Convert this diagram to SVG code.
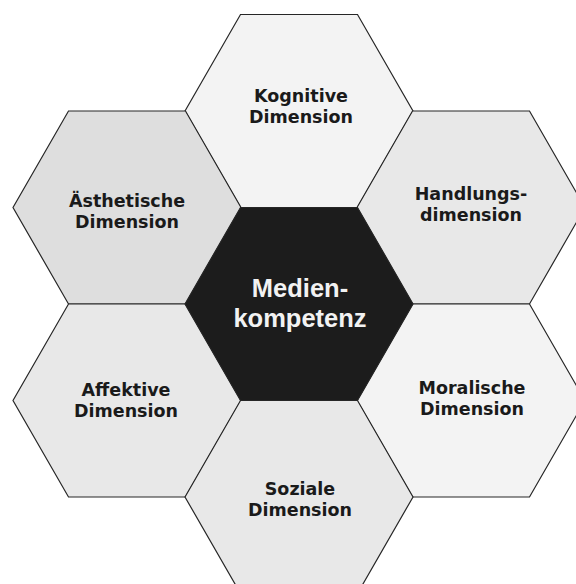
<svg xmlns="http://www.w3.org/2000/svg" xmlns:xlink="http://www.w3.org/1999/xlink" width="576" height="584" viewBox="0 0 576 584">
  <defs>
    <style>
      .cell { stroke: #262626; stroke-width: 1.2; }
      .f1 { fill: #f3f3f3; }
      .f2 { fill: #dedede; }
      .f3 { fill: #e8e8e8; }
      .core { fill: #1c1c1c; }
      .lbl { font-family: "DejaVu Sans", Verdana, sans-serif; font-weight: bold; font-size: 17.5px; fill: #1a1a1a; text-anchor: middle; }
      .core-lbl { font-family: "Liberation Sans", Arial, sans-serif; font-weight: bold; font-size: 25.5px; fill: #f2f2f2; text-anchor: middle; }
    </style>
    <!-- flat-topped hexagon centred on the origin -->
    <polygon id="hex" points="-114,0 -58.5,-96.5 58.5,-96.5 114,0 58.5,96.5 -58.5,96.5"/>
  </defs>

  <rect width="576" height="584" fill="#ffffff"/>

  <g id="kognitive">
    <use xlink:href="#hex" href="#hex" class="cell f1" transform="translate(299,111)"/>
    <text class="lbl" x="301" y="102">Kognitive</text>
    <text class="lbl" x="301" y="123">Dimension</text>
  </g>

  <g id="aesthetische">
    <use xlink:href="#hex" href="#hex" class="cell f2" transform="translate(127,207.5)"/>
    <text class="lbl" x="127" y="207">Ästhetische</text>
    <text class="lbl" x="127" y="228">Dimension</text>
  </g>

  <g id="handlung">
    <use xlink:href="#hex" href="#hex" class="cell f3" transform="translate(471,207.5)"/>
    <text class="lbl" x="471" y="200">Handlungs-</text>
    <text class="lbl" x="471" y="221">dimension</text>
  </g>

  <g id="affektive">
    <use xlink:href="#hex" href="#hex" class="cell f3" transform="translate(127,400.5)"/>
    <text class="lbl" x="126" y="396">Affektive</text>
    <text class="lbl" x="126" y="417">Dimension</text>
  </g>

  <g id="moralische">
    <use xlink:href="#hex" href="#hex" class="cell f1" transform="translate(471,400.5)"/>
    <text class="lbl" x="472" y="394">Moralische</text>
    <text class="lbl" x="472" y="415">Dimension</text>
  </g>

  <g id="soziale">
    <use xlink:href="#hex" href="#hex" class="cell f3" transform="translate(299,497)"/>
    <text class="lbl" x="300" y="495">Soziale</text>
    <text class="lbl" x="300" y="516">Dimension</text>
  </g>

  <g id="medienkompetenz">
    <use xlink:href="#hex" href="#hex" class="cell core" transform="translate(299,304)"/>
    <text class="core-lbl" x="300" y="297">Medien-</text>
    <text class="core-lbl" x="300" y="327">kompetenz</text>
  </g>
</svg>
